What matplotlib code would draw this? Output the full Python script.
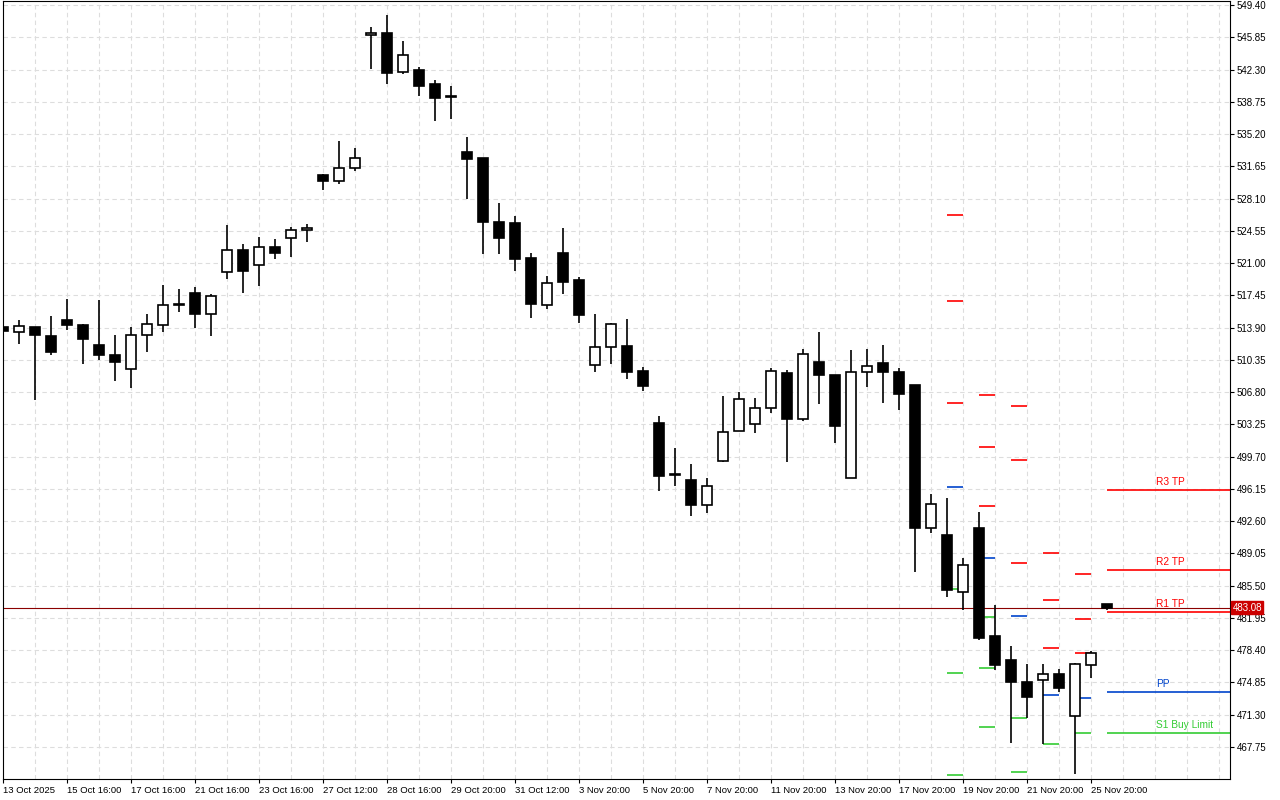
import numpy as np
import matplotlib
matplotlib.use("Agg")
import matplotlib.pyplot as plt

plt.rcParams['font.family'] = ['Liberation Sans', 'DejaVu Sans']

# OHLC (4h bars)
opens = [514.0, 513.43, 514.0, 513.0, 514.78, 514.2, 512.0, 510.9, 509.3, 513.1,
         514.15, 516.4, 517.75, 515.4, 520.0, 522.4, 520.8, 522.8, 523.76, 524.6,
         530.7, 530.0, 531.45, 546.07, 546.29, 542.07, 542.2, 540.68, 539.26, 533.2,
         532.6, 525.55, 525.44, 521.6, 516.4, 522.1, 519.1, 509.8, 511.8, 511.9,
         509.1, 503.43, 497.67, 497.16, 494.4, 499.25, 502.55, 503.32, 505.08, 508.96,
         503.82, 510.16, 508.74, 497.4, 509.03, 510.05, 509.07, 507.64, 491.89, 491.04,
         484.85, 491.81, 479.94, 477.3, 474.88, 475.07, 475.73, 471.18, 476.72, 483.47]
highs = [514.1, 514.78, 514.0, 515.2, 517.1, 514.3, 516.9, 513.1, 514.0, 515.4,
         518.6, 518.1, 518.4, 517.6, 525.2, 523.1, 523.9, 523.6, 525.0, 525.3,
         530.8, 534.45, 533.7, 546.98, 548.3, 545.44, 542.55, 541.1, 540.46, 534.9,
         532.6, 527.6, 526.2, 522.1, 519.6, 524.9, 519.5, 515.4, 514.4, 514.8,
         509.6, 504.2, 500.7, 498.9, 497.38, 506.4, 506.76, 506.2, 509.5, 509.2,
         511.56, 513.46, 508.74, 511.4, 511.56, 512.0, 509.5, 507.64, 495.55, 495.1,
         488.6, 493.57, 483.35, 478.87, 476.86, 476.86, 476.3, 477.0, 478.3, 483.5]
lows = [513.4, 512.07, 505.9, 510.9, 513.6, 509.9, 510.3, 508.0, 507.3, 511.2,
        513.4, 515.6, 513.9, 512.95, 519.2, 517.7, 518.5, 521.5, 521.7, 523.3,
        529.0, 529.65, 531.1, 542.4, 540.75, 541.85, 539.4, 536.68, 536.9, 528.0,
        522.0, 522.0, 520.1, 515.0, 516.0, 517.6, 514.45, 509.0, 509.9, 508.3,
        506.9, 495.9, 496.46, 493.16, 493.5, 499.1, 502.5, 502.3, 504.5, 499.07,
        503.65, 505.47, 501.2, 497.4, 507.34, 505.6, 504.8, 487.0, 491.3, 484.26,
        482.83, 479.5, 476.2, 468.2, 470.96, 468.04, 473.82, 464.8, 475.36, 482.85]
closes = [513.5, 514.09, 513.1, 511.19, 514.15, 512.6, 510.9, 510.1, 513.1, 514.3,
          516.4, 516.4, 515.4, 517.4, 522.4, 520.1, 522.8, 522.1, 524.6, 524.85,
          530.0, 531.45, 532.55, 546.29, 541.96, 543.87, 540.53, 539.21, 539.26, 532.5,
          525.47, 523.72, 521.5, 516.46, 518.8, 518.9, 515.25, 511.8, 514.3, 509.0,
          507.45, 497.56, 497.67, 494.37, 496.5, 502.44, 506.07, 505.08, 509.14, 503.82,
          511.0, 508.66, 503.05, 509.07, 509.7, 509.0, 506.57, 491.85, 494.45, 485.03,
          487.82, 479.75, 476.8, 474.92, 473.27, 475.73, 474.26, 476.86, 478.04, 483.1]

x_labels = ["13 Oct 2025", "15 Oct 16:00", "17 Oct 16:00", "21 Oct 16:00", "23 Oct 16:00",
            "27 Oct 12:00", "28 Oct 16:00", "29 Oct 20:00", "31 Oct 12:00", "3 Nov 20:00",
            "5 Nov 20:00", "7 Nov 20:00", "11 Nov 20:00", "13 Nov 20:00", "17 Nov 20:00",
            "19 Nov 20:00", "21 Nov 20:00", "25 Nov 20:00"]

# daily pivot segments: start bar, red levels, blue (PP), green levels
piv_start = [59, 61, 63, 65, 67]
piv_red = [[526.32, 516.87, 505.63], [506.5, 500.79, 494.31], [505.3, 499.36, 488.04],
           [489.14, 483.98, 478.62], [486.83, 481.88, 478.07]]
piv_pp = [496.4, 488.59, 482.22, 473.46, 473.13]
piv_green = [[485.18, 475.88, 464.66], [482.11, 476.43, 469.94], [470.9, 465.0],
             [468.07], [469.28]]

# current levels on the right
lvl_names = ["R3 TP", "R2 TP", "R1 TP", "PP", "S1 Buy Limit"]
lvl_values = [495.99, 487.2, 482.58, 473.79, 469.28]
lvl_colors = ["#ff0000", "#ff0000", "#ff0000", "#0044cc", "#33cc33"]
last_price = 483.08

fig = plt.figure(figsize=(12.8, 8), dpi=100)
ax = fig.add_axes([3 / 1280, 21 / 800, 1227 / 1280, 778 / 800])

n = len(opens)
x = np.arange(n)
o = np.array(opens); c = np.array(closes)
ax.vlines(x, lows, highs, color="black", lw=1.2, zorder=3)
up = c >= o
bottom = np.minimum(o, c)
height = np.maximum(np.abs(c - o), 0.08)
ax.bar(x[up], height[up], bottom=bottom[up], width=0.62, color="white",
       edgecolor="black", lw=1.2, zorder=4)
ax.bar(x[~up], height[~up], bottom=bottom[~up], width=0.62, color="black",
       edgecolor="black", lw=1.2, zorder=4)

for s, reds, pp, greens in zip(piv_start, piv_red, piv_pp, piv_green):
    ax.hlines(reds, s, s + 1, color="#ff0000", lw=1.2, zorder=2)
    ax.hlines(pp, s, s + 1, color="#0044cc", lw=1.2, zorder=2)
    ax.hlines(greens, s, s + 1, color="#33cc33", lw=1.2, zorder=2)

xmax = 76.7
for name, v, col in zip(lvl_names, lvl_values, lvl_colors):
    ax.hlines(v, n - 1, xmax, color=col, lw=1.2, zorder=2)
    ax.text(72.1, v + 0.35, name, color=col, fontsize=7.3, va="bottom", ha="left")

ax.axhline(last_price, color="#8b0000", lw=0.8, zorder=1)

ymin, ymax = 464.23, 549.84
ax.set_xlim(0, xmax)
ax.set_ylim(ymin, ymax)

yticks = 549.40 - 3.55 * np.arange(24)
ax.yaxis.tick_right()
ax.set_yticks(yticks)
ax.set_yticklabels([f"{t:.2f}" for t in yticks], fontsize=7)
ax.set_xticks(np.arange(0, n, 4))
ax.set_xticklabels(x_labels, fontsize=6.8, ha="left")
ax.tick_params(axis="both", length=3, width=0.8, pad=2)

for gx in np.arange(2, xmax, 2):
    ax.axvline(gx, color="#dddddd", lw=0.8, ls=(0, (4, 3)), zorder=0)
for gy in yticks:
    ax.axhline(gy, color="#dddddd", lw=0.8, ls=(0, (4, 3)), zorder=0)

for sp in ax.spines.values():
    sp.set_linewidth(0.8)

ax.text(1.002, (last_price - ymin) / (ymax - ymin), f"{last_price:.2f}",
        transform=ax.transAxes, fontsize=7, color="white", va="center", ha="left",
        bbox=dict(boxstyle="square,pad=0.15", fc="#cc0000", ec="#cc0000"))

fig.savefig("out.png", dpi=100)
